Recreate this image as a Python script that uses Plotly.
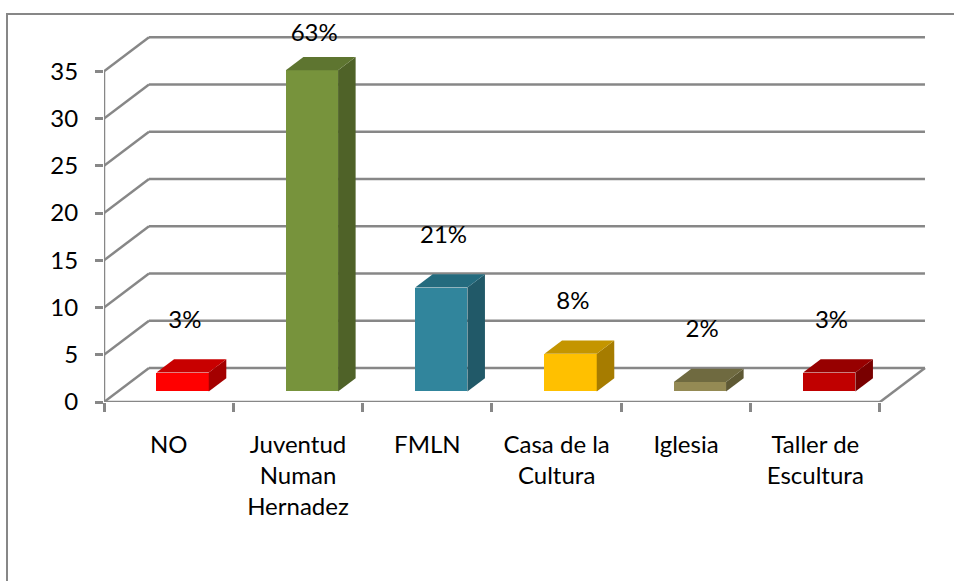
import plotly.graph_objects as go

# ---------------- data ----------------
categories = ["NO", "Juventud<br>Numan<br>Hernadez", "FMLN", "Casa de la<br>Cultura", "Iglesia", "Taller de<br>Escultura"]
values = [2, 34, 11, 4, 1, 2]
pct_labels = ["3%", "63%", "21%", "8%", "2%", "3%"]
y_ticks = [0, 5, 10, 15, 20, 25, 30, 35]

front_colors = ["#FF0000", "#77933C", "#31859C", "#FFC000", "#948A54", "#C00000"]
top_colors = ["#C80000", "#5E7530", "#246B7E", "#C49500", "#6F6A40", "#970000"]
side_colors = ["#A40000", "#4F6228", "#215968", "#A67C00", "#5E5934", "#790000"]

# ---------------- 3D geometry (in axis units) ----------------
DX = 45 / 129.33      # depth offset along x (category units)
DY = 34 / 9.449       # depth offset along y (value units)
F1, F2 = 0.31, 0.70   # bar front / back position in depth
BW = 0.404            # bar width (category units)
GRID = "#878787"
FONT = "Lato"
FS = 24

n = len(values)
idx = list(range(n))

fig = go.Figure()

# bar front faces
fig.add_trace(go.Bar(
    x=[i + F1 * DX for i in idx], y=values, base=[F1 * DY] * n, width=BW,
    marker=dict(color=front_colors, line=dict(width=0)), showlegend=False,
    hoverinfo="skip"))

# side and top faces
ddx = (F2 - F1) * DX
ddy = (F2 - F1) * DY
for i, v in enumerate(values):
    xl = i - BW / 2 + F1 * DX
    xr = i + BW / 2 + F1 * DX
    b = F1 * DY
    t = v + b
    fig.add_trace(go.Scatter(
        x=[xr, xr, xr + ddx, xr + ddx, xr], y=[b, t, t + ddy, b + ddy, b],
        fill="toself", fillcolor=side_colors[i], mode="lines", line=dict(width=0),
        showlegend=False, hoverinfo="skip"))
    fig.add_trace(go.Scatter(
        x=[xl, xr, xr + ddx, xl + ddx, xl], y=[t, t, t + ddy, t + ddy, t],
        fill="toself", fillcolor=top_colors[i], mode="lines", line=dict(width=0),
        showlegend=False, hoverinfo="skip"))

# percentage labels
fig.add_trace(go.Scatter(
    x=[i + (F1 + 0.05) * DX for i in idx],
    y=[min(v + 6.5, 38.8) for v in values],
    text=pct_labels, mode="text", textfont=dict(family=FONT, size=FS, color="#000000"),
    showlegend=False, hoverinfo="skip", cliponaxis=False))

# ---------------- walls / gridlines as shapes ----------------
shapes = []
x_left = -0.5
x_right = n - 0.5
for t in y_ticks:
    shapes.append(dict(type="line", xref="x", yref="y", x0=x_left, y0=t, x1=x_left + DX, y1=t + DY,
                       line=dict(color=GRID, width=2.5), layer="below"))
    shapes.append(dict(type="line", xref="x", yref="y", x0=x_left + DX, y0=t + DY, x1=x_right + DX, y1=t + DY,
                       line=dict(color=GRID, width=2.5), layer="below"))
# floor front edge and right edge
shapes.append(dict(type="line", xref="x", yref="y", x0=x_left, y0=0, x1=x_right, y1=0,
                   line=dict(color=GRID, width=2.5), layer="below"))
shapes.append(dict(type="line", xref="x", yref="y", x0=x_right, y0=0, x1=x_right + DX, y1=DY,
                   line=dict(color=GRID, width=2.5), layer="below"))
# front vertical axis
shapes.append(dict(type="line", xref="x", yref="y", x0=x_left, y0=0, x1=x_left, y1=max(y_ticks),
                   line=dict(color=GRID, width=2.5), layer="below"))
# chart area border
shapes.append(dict(type="rect", xref="paper", yref="paper", x0=(7 - 104) / 822, y0=-2,
                   x1=2, y1=(402 - 14) / 372, line=dict(color=GRID, width=2), layer="below"))

fig.update_layout(
    width=954, height=581,
    margin=dict(l=104, r=28, t=30, b=179),
    paper_bgcolor="white", plot_bgcolor="white",
    shapes=shapes,
    bargap=0,
    font=dict(family=FONT, size=FS, color="#000000"),
    xaxis=dict(range=[-0.5, -0.5 + 822 / 129.33], tickmode="array", tickvals=idx, ticktext=categories,
               ticks="", showgrid=False, zeroline=False, showline=False, fixedrange=True,
               ticklabelstandoff=26,
               tickfont=dict(family=FONT, size=FS, color="#000000"),
               minor=dict(tickmode="array", tickvals=[i - 0.5 for i in range(n + 1)], ticks="outside",
                          ticklen=9, tickwidth=2.5, tickcolor=GRID, showgrid=False)),
    yaxis=dict(range=[0, 372 / 9.449], tickmode="array", tickvals=y_ticks, ticks="outside",
               ticklen=8, tickwidth=2.5, tickcolor=GRID, showgrid=False, zeroline=False, showline=False,
               fixedrange=True, ticklabelstandoff=12,
               tickfont=dict(family=FONT, size=FS, color="#000000")),
)

fig.write_html("out.html", config={"displayModeBar": False},
               post_script="document.body.style.margin='0';document.body.style.overflow='hidden';")
